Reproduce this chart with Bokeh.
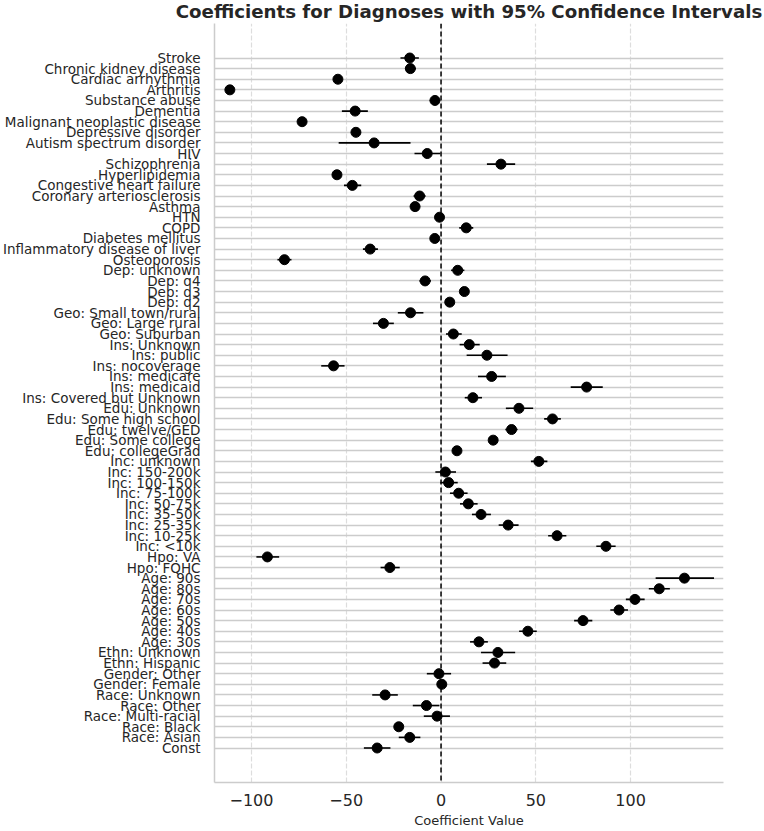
from bokeh.plotting import figure
from bokeh.models import FactorRange, Range1d, FixedTicker, Span, ColumnDataSource
from bokeh.embed import file_html
from bokeh.resources import INLINE

labels = [
    "Stroke", "Chronic kidney disease", "Cardiac arrhythmia", "Arthritis",
    "Substance abuse", "Dementia", "Malignant neoplastic disease",
    "Depressive disorder", "Autism spectrum disorder", "HIV", "Schizophrenia",
    "Hyperlipidemia", "Congestive heart failure", "Coronary arteriosclerosis",
    "Asthma", "HTN", "COPD", "Diabetes mellitus", "Inflammatory disease of liver",
    "Osteoporosis", "Dep: unknown", "Dep: q4", "Dep: q3", "Dep: q2",
    "Geo: Small town/rural", "Geo: Large rural", "Geo: Suburban",
    "Ins: Unknown", "Ins: public", "Ins: nocoverage", "Ins: medicare",
    "Ins: medicaid", "Ins: Covered but Unknown", "Edu: Unknown",
    "Edu: Some high school", "Edu: twelve/GED", "Edu: Some college",
    "Edu: collegeGrad", "Inc: unknown", "Inc: 150-200k", "Inc: 100-150k",
    "Inc: 75-100k", "Inc: 50-75k", "Inc: 35-50k", "Inc: 25-35k", "Inc: 10-25k",
    "Inc: <10k", "Hpo: VA", "Hpo: FQHC", "Age: 90s", "Age: 80s", "Age: 70s",
    "Age: 60s", "Age: 50s", "Age: 40s", "Age: 30s", "Ethn: Unknown",
    "Ethn: Hispanic", "Gender: Other", "Gender: Female", "Race: Unknown",
    "Race: Other", "Race: Multi-racial", "Race: Black", "Race: Asian", "Const",
]

coef = [
    -16.5, -16.2, -54.4, -111.4, -3.2, -45.3, -73.3, -44.9, -35.3, -7.3, 31.6,
    -54.9, -46.8, -11.3, -13.7, -0.8, 13.3, -3.3, -37.4, -82.6, 8.8, -8.4, 12.3,
    4.6, -16.1, -30.4, 6.5, 14.9, 24.2, -56.7, 26.7, 76.8, 16.8, 41.1, 58.8,
    37.2, 27.5, 8.4, 51.6, 2.3, 4.0, 9.3, 14.4, 21.1, 35.4, 61.2, 87.0, -91.6,
    -27.0, 128.4, 115.1, 102.3, 93.9, 74.9, 45.8, 20.0, 30.0, 28.2, -1.1, 0.4,
    -29.5, -7.7, -2.1, -22.3, -16.5, -33.7,
]

ci_low = [
    -21.4, -19.0, -56.5, -113.2, -6.0, -52.3, -75.0, -46.7, -54.0, -14.0, 24.2,
    -56.7, -51.2, -14.5, -15.5, -2.3, 9.6, -5.0, -41.2, -86.3, 5.3, -11.4, 10.3,
    2.8, -22.8, -35.9, 2.6, 9.8, 13.5, -63.2, 19.5, 68.4, 12.5, 34.2, 54.4,
    33.9, 25.3, 6.4, 47.4, -3.0, -0.4, 4.7, 10.0, 16.3, 30.4, 56.5, 81.9, -97.4,
    -31.9, 113.2, 109.6, 97.5, 89.3, 70.2, 41.2, 15.3, 21.1, 21.9, -7.5, -0.8,
    -36.3, -14.9, -9.1, -24.3, -22.3, -40.7,
]

ci_high = [
    -11.7, -13.2, -52.3, -109.6, -0.5, -38.6, -71.6, -43.1, -16.1, -0.4, 39.1,
    -53.1, -42.1, -8.1, -11.9, 0.7, 17.0, -1.6, -33.3, -78.9, 12.3, -5.3, 14.3,
    6.4, -9.3, -24.9, 10.9, 20.4, 35.1, -50.9, 34.2, 85.3, 21.6, 48.6, 63.2,
    40.4, 29.7, 10.4, 56.1, 7.9, 8.8, 14.0, 19.3, 26.3, 40.9, 66.1, 92.1, -85.4,
    -21.8, 144.0, 120.7, 107.4, 98.6, 79.8, 50.5, 24.7, 39.1, 34.4, 5.3, 1.6,
    -22.8, -0.9, 4.7, -20.3, -10.9, -26.7,
]

x_ticks = [-100, -50, 0, 50, 100]
x_tick_labels = ["\u2212100", "\u221250", "0", "50", "100"]

TEXT = "#262626"
FONT = "DejaVu Sans"

src = ColumnDataSource(dict(label=labels, coef=coef, lo=ci_low, hi=ci_high))

p = figure(
    width=764, height=831, output_backend="svg", toolbar_location=None,
    x_range=Range1d(-119.5, 149),
    y_range=FactorRange(factors=list(reversed(labels)), range_padding=2.75,
                        range_padding_units="absolute"),
    title="Coefficients for Diagnoses with 95% Confidence Intervals",
    min_border_left=213, min_border_right=41, min_border_top=23,
    min_border_bottom=49,
)

p.title.align = "center"
p.title.vertical_align = "top"
p.title.text_font = FONT
p.title.text_font_size = "18.2px"
p.title.text_font_style = "bold"
p.title.text_color = TEXT
p.title.standoff = 0

p.outline_line_color = None
p.background_fill_color = "white"
p.border_fill_color = "white"

# grids
p.xgrid.ticker = FixedTicker(ticks=x_ticks)
p.xgrid.grid_line_color = "#dddddd"
p.xgrid.grid_line_dash = "5 2"
p.xgrid.grid_line_width = 1.2
p.ygrid.grid_line_color = "#cccccc"
p.ygrid.grid_line_width = 1.3

# x axis
p.xaxis.ticker = FixedTicker(ticks=x_ticks)
p.xaxis.major_label_overrides = dict(zip(x_ticks, x_tick_labels))
p.xaxis.axis_label = "Coefficient Value"
p.xaxis.axis_label_text_font = FONT
p.xaxis.axis_label_text_font_size = "13px"
p.xaxis.axis_label_text_font_style = "normal"
p.xaxis.axis_label_text_color = TEXT
p.xaxis.axis_label_standoff = 4
p.xaxis.major_label_text_font = FONT
p.xaxis.major_label_text_font_size = "16px"
p.xaxis.major_label_text_color = TEXT
p.xaxis.major_label_standoff = 11

# y axis
p.yaxis.major_label_text_font = FONT
p.yaxis.major_label_text_font_size = "13.5px"
p.yaxis.major_label_text_color = TEXT
p.yaxis.major_label_standoff = 14

for ax in (p.xaxis, p.yaxis):
    ax.major_tick_line_color = None
    ax.minor_tick_line_color = None
    ax.major_tick_out = 0
    ax.major_tick_in = 0
    ax.axis_line_color = "#cccccc"
    ax.axis_line_width = 1.5

p.add_layout(Span(location=0, dimension="height", line_color="black",
                  line_dash="5 3", line_width=1.5))

p.segment(x0="lo", y0="label", x1="hi", y1="label", source=src,
          line_color="black", line_width=1.6)
p.scatter(x="coef", y="label", source=src, size=10, fill_color="black",
          line_color="black")

open("out.html", "w").write(file_html(p, INLINE))
